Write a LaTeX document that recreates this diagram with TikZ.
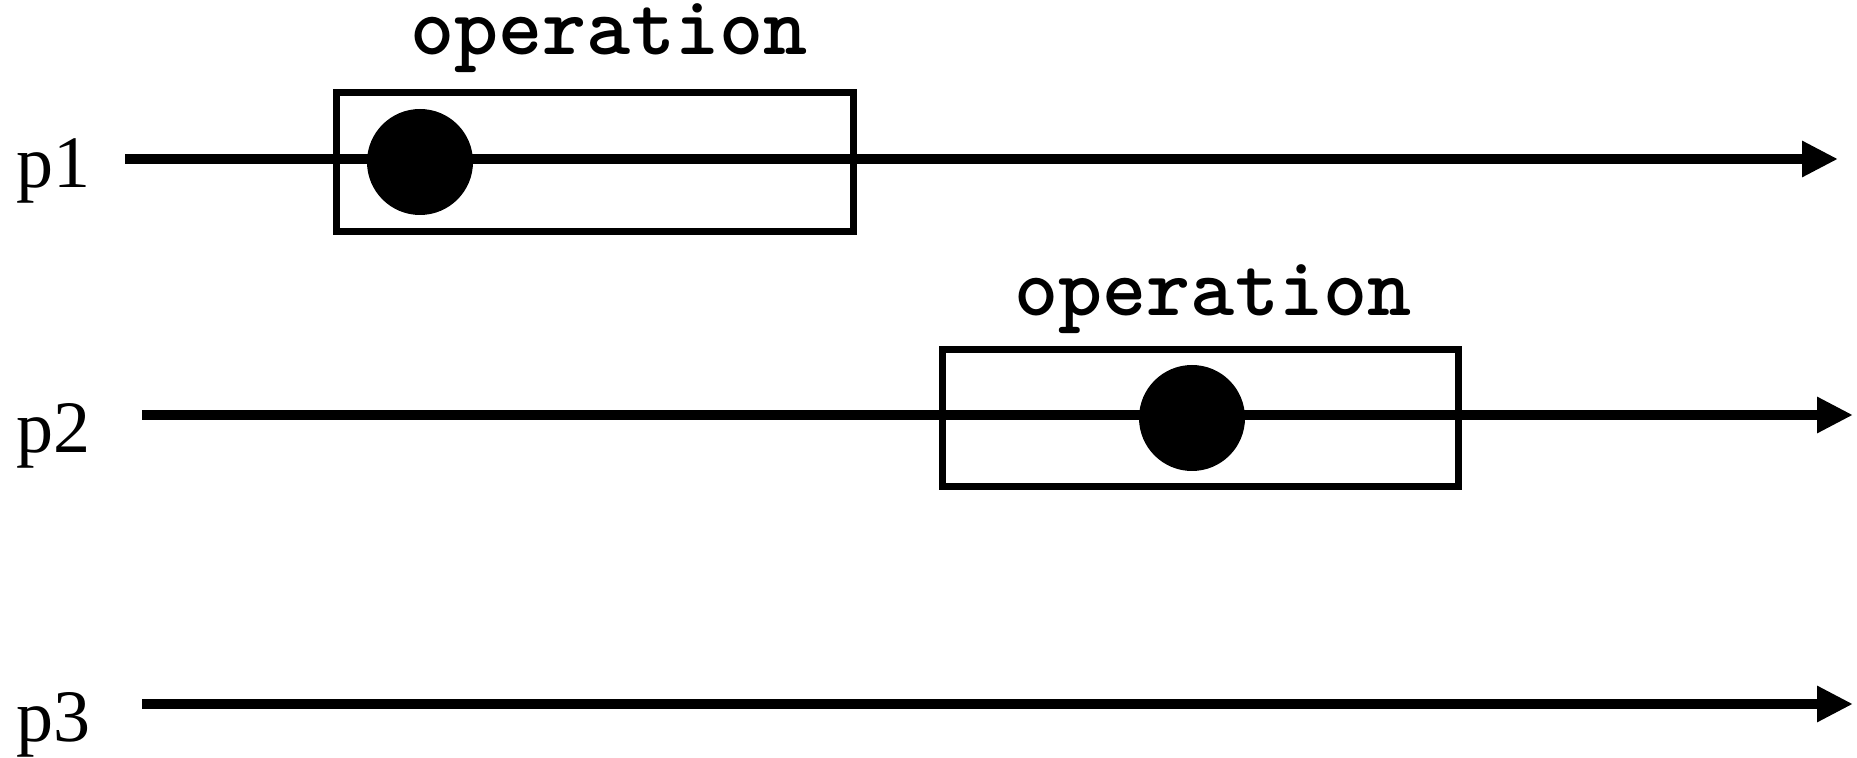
\documentclass[tikz,border=0pt]{standalone}
\usepackage{fontspec}
\setmainfont{Liberation Serif}
\usetikzlibrary{arrows.meta}
\tikzset{
  timeline/.style={line width=4.7pt,-{Triangle[length=18pt,width=17pt]}},
  opbox/.style={line width=3.5pt},
  proclabel/.style={anchor=base west,inner sep=0pt,font=\fontsize{37pt}{40pt}\selectfont},
  oplabel/.style={anchor=base,inner sep=0pt,font=\fontsize{42pt}{45pt}\selectfont\ttfamily\bfseries}
}
\begin{document}
\begin{tikzpicture}[x=0.5pt,y=-0.5pt]
\useasboundingbox (0,0) rectangle (1857,758);
\coordinate (S1) at (125,159);
\coordinate (E1) at (1838,159);
\coordinate (S2) at (142,415);
\coordinate (E2) at (1853,415);
\coordinate (S3) at (142,704);
\coordinate (E3) at (1853,704);
\node[proclabel] (p1) at (16,188) {p1};
\node[proclabel] (p2) at (16,453) {p2};
\node[proclabel] (p3) at (16,741) {p3};
\draw [timeline] (S1) -- (E1);
\draw [timeline] (S2) -- (E2);
\draw [timeline] (S3) -- (E3);
\draw [opbox] (336,93) rectangle (853,232);
\draw [opbox] (942,350) rectangle (1458,487);
\node[oplabel] (op1) at (609,55) {operation};
\node[oplabel] (op2) at (1213,316) {operation};
\coordinate (D1) at (420,162);
\coordinate (D2) at (1192,418);
\foreach \p in {D1,D2}
	\fill[black] (\p) circle (53);
\end{tikzpicture}
\end{document}
